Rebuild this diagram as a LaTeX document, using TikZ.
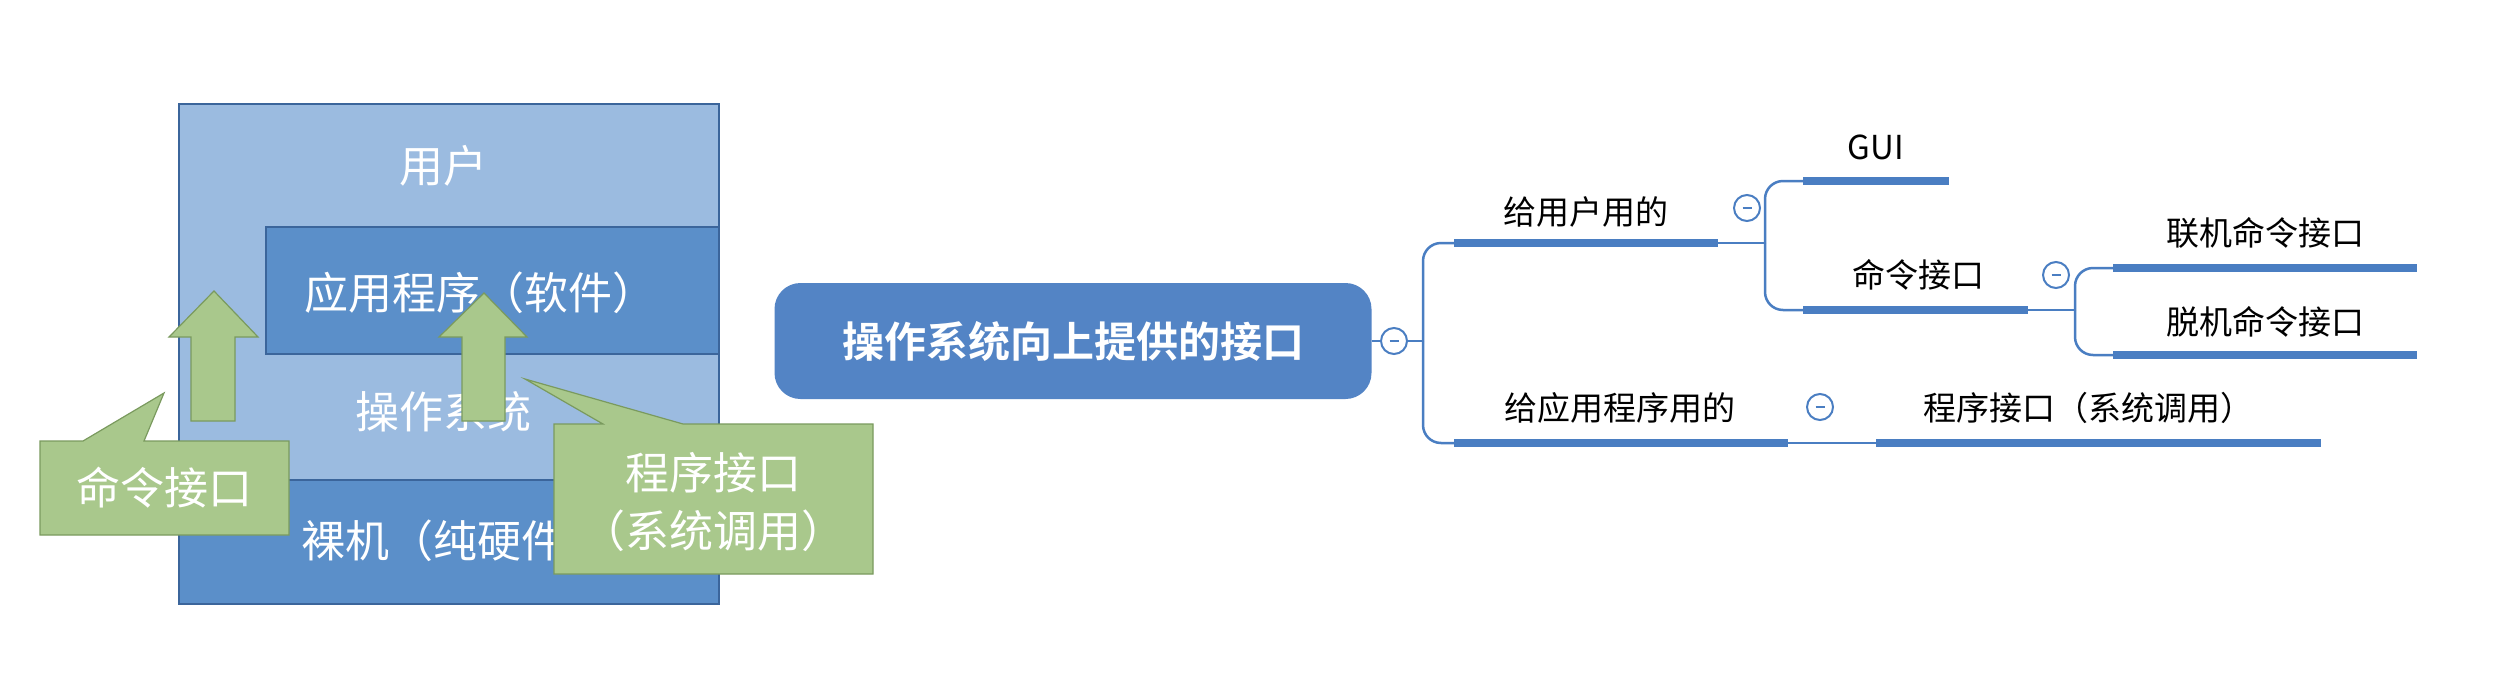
\documentclass[tikz,border=0pt]{standalone}
\usepackage{fontspec}
\newfontfamily\cjk{Noto Sans CJK SC}
\newfontfamily\cjkb{Noto Sans CJK SC Bold}
\definecolor{lb}{HTML}{9BBBE0}
\definecolor{db}{HTML}{5B8FC9}
\definecolor{gr}{HTML}{A9C88C}
\definecolor{grd}{HTML}{7A9A5E}
\definecolor{ln}{HTML}{4A7EC2}
\tikzset{
  lay/.style={draw=ln!80!black,line width=1.5pt},
  wt/.style={text=white,font=\cjk\fontsize{44}{54}\selectfont},
  arr/.style={fill=gr,draw=grd,line width=1.2pt},
  ul/.style={line width=8pt,draw=ln},
  th/.style={line width=2.5pt,draw=ln,rounded corners=18pt},
  lab/.style={font=\cjk\fontsize{33}{40}\selectfont,text=black},
  col/.style={circle,draw=ln,line width=2pt,fill=white,minimum size=26pt,inner sep=0pt,font=\cjk\fontsize{18}{18}\selectfont,text=ln}
}
\begin{document}
\begin{tikzpicture}[x=1pt,y=-1pt]
\useasboundingbox (0,0) rectangle (2496,672);
\fill[white] (0,0) rectangle (2496,672);
% left layered diagram
\filldraw[fill=lb,lay] (179,104) rectangle (719,604);
\filldraw[fill=db,lay] (266,227) rectangle (719,354);
\filldraw[fill=db,lay] (179,480) rectangle (719,604);
\node[wt] (user) at (443,166) {用户};
\node[wt] (app) at (480,293) {应用程序（软件）};
\node[wt] (os) at (443,412) {操作系统};
\node[wt] (hw) at (455,541) {裸机（纯硬件）};
% arrows
\filldraw[arr] (214,291) -- (258,337) -- (235,337) -- (235,421) -- (191,421) -- (191,337) -- (169,337) -- cycle;
\filldraw[arr] (484,293) -- (527,337) -- (505,337) -- (505,421) -- (462,421) -- (462,337) -- (439,337) -- cycle;
% callouts
\filldraw[arr] (40,441) -- (83,441) -- (164,393) -- (144,441) -- (289,441) -- (289,535) -- (40,535) -- cycle;
\node[font=\cjk\fontsize{44}{54}\selectfont,text=white] (cmd) at (164,488) {命令接口};
\filldraw[arr] (554,424) -- (603,424) -- (525,379) -- (683,424) -- (873,424) -- (873,574) -- (554,574) -- cycle;
\node[font=\cjk\fontsize{44}{58}\selectfont,text=white,align=center] (prog) at (713,502) {程序接口\\（系统调用）};
% mind map
\node[fill=ln!95!white,rounded corners=26pt,minimum width=597pt,minimum height=116pt,text=white,font=\cjkb\fontsize{42}{50}\selectfont] (root) at (1073,341) {操作系统向上提供的接口};
\coordinate (f0) at (1423,341);
\coordinate (a1) at (1454,243); \coordinate (a2) at (1718,243);
\coordinate (b1) at (1454,443); \coordinate (b2) at (1788,443);
\coordinate (g1) at (1803,181); \coordinate (g2) at (1949,181);
\coordinate (c1) at (1803,310); \coordinate (c2) at (2028,310);
\coordinate (d1) at (2113,268); \coordinate (d2) at (2417,268);
\coordinate (e1) at (2113,355); \coordinate (e2) at (2417,355);
\coordinate (p1) at (1876,443); \coordinate (p2) at (2321,443);
\draw[th] (root.east) -- (f0);
\draw[th] (f0) |- (a1);
\draw[th] (f0) |- (b1);
\coordinate (f1) at (1765,243);
\draw[th] (a2) -- (f1);
\draw[th] (f1) |- (g1);
\draw[th] (f1) |- (c1);
\coordinate (f2) at (2075,310);
\draw[th] (c2) -- (f2);
\draw[th] (f2) |- (d1);
\draw[th] (f2) |- (e1);
\draw[th] (b2) -- (p1);
\foreach \s/\t in {a1/a2,b1/b2,g1/g2,c1/c2,d1/d2,e1/e2,p1/p2} \draw[ul] (\s) -- (\t);
\node[col] (k0) at (1394,341) {\rule{9pt}{2pt}};
\node[col] (k1) at (1747,208) {\rule{9pt}{2pt}};
\node[col] (k2) at (2056,275) {\rule{9pt}{2pt}};
\node[col] (k3) at (1820,407) {\rule{9pt}{2pt}};
\node[lab] (t1) at (1586,212) {给用户用的};
\node[lab] (t2) at (1620,408) {给应用程序用的};
\node[lab] (t3) at (1876,147) {GUI};
\node[lab] (t4) at (1918,275) {命令接口};
\node[lab] (t5) at (2265,233) {联机命令接口};
\node[lab] (t6) at (2265,322) {脱机命令接口};
\node[lab] (t7) at (2088,408) {程序接口（系统调用）};
\end{tikzpicture}
\end{document}
